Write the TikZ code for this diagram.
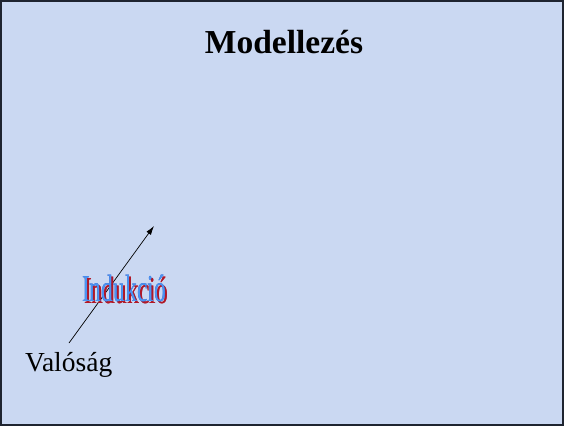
\documentclass[tikz,border=0pt]{standalone}
\usepackage{fontspec}
\setmainfont{Liberation Serif}
\usepackage[outline]{contour}
\contourlength{0.7pt}
\usetikzlibrary{arrows.meta}
\definecolor{slidebg}{HTML}{CAD8F2}
\definecolor{framecol}{HTML}{1E2430}
\definecolor{indfill}{HTML}{4C94F2}
\definecolor{indline}{HTML}{1A46C0}
\definecolor{indshadow}{HTML}{B01828}
\tikzset{
  title/.style={font=\bfseries\fontsize{33.5}{38}\selectfont, inner sep=0pt, anchor=base},
  label/.style={font=\fontsize{27.5}{31}\selectfont, inner sep=0pt, anchor=base west},
  link/.style={-{Latex[length=9pt,width=5.5pt]}, line width=0.7pt, black},
  outlined/.style={inner sep=0pt},
}
\newcommand{\indword}[2]{\scalebox{0.62}[1]{\fontsize{38}{40}\selectfont\contour{#1}{#2}}}
\begin{document}
\begin{tikzpicture}[x=1pt,y=-1pt]
  % slide background and frame
  \fill[slidebg] (0,0) rectangle (564,426);
  \draw[framecol, line width=2pt] (1,1) rectangle (563,425);
  \useasboundingbox (0,0) rectangle (564,426);

  % heading
  \node[title] (head) at (284,53) {Modellezés};

  % bottom label and rising arrow
  \node[label] (real) at (25,371) {Valóság};
  \coordinate (tail) at (69,343);
  \coordinate (tip) at (154,226);
  \draw[link] (tail) -- (tip);

  % shadowed outline word over the arrow
  \node[outlined, text=indshadow] (indsh) at (126,290) {\indword{indshadow}{Indukció}};
  \node[outlined, text=indfill] (ind) at (124,288) {\indword{indline}{Indukció}};
\end{tikzpicture}
\end{document}
